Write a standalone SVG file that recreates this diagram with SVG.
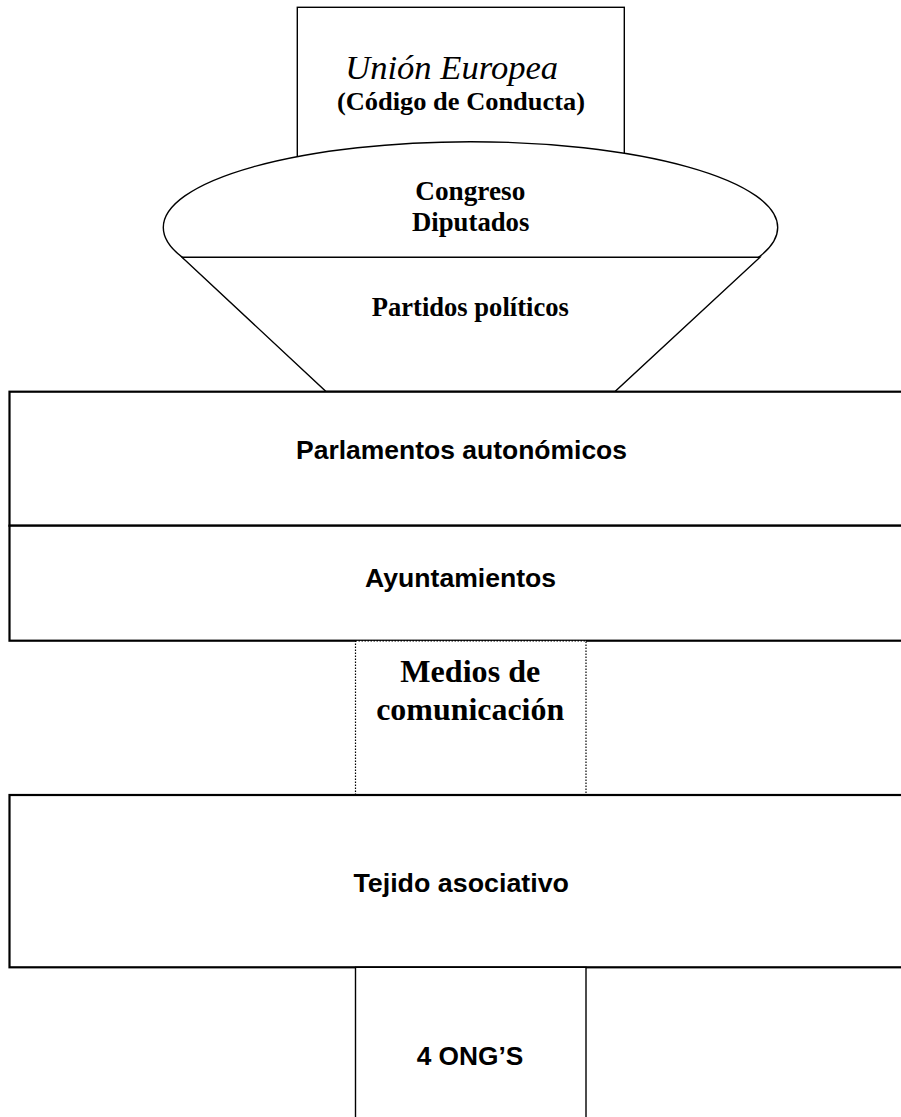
<svg xmlns="http://www.w3.org/2000/svg" width="901" height="1117" viewBox="0 0 901 1117">
<style>
.thin{fill:#fff;stroke:#000;stroke-width:1.4}
.thick{fill:#fff;stroke:#000;stroke-width:2.2}
.dot{fill:#fff;stroke:#000;stroke-width:1.2;stroke-dasharray:1.5 1.5}
.serif{font-family:"Liberation Serif","Times New Roman",serif;fill:#000;text-anchor:middle}
.sans{font-family:"Liberation Sans",Arial,sans-serif;font-weight:bold;fill:#000;text-anchor:middle;font-size:25px}
.b{font-weight:bold}
</style>
<rect width="901" height="1117" fill="#fff"/>
<g id="union-europea">
<rect class="thin" x="297.3" y="7.3" width="327" height="170"/>
<text class="serif" x="451.7" y="79" font-size="33.5" font-style="italic" textLength="213" lengthAdjust="spacingAndGlyphs">Unión Europea</text>
<text class="serif b" x="461" y="110" font-size="26" textLength="248" lengthAdjust="spacingAndGlyphs">(Código de Conducta)</text>
</g>
<g id="congreso-diputados">
<ellipse class="thin" cx="470.5" cy="227.5" rx="307.2" ry="85.8"/>
<text class="serif b" x="470.3" y="200" font-size="27" textLength="110" lengthAdjust="spacingAndGlyphs">Congreso</text>
<text class="serif b" x="470.7" y="231" font-size="27" textLength="117.4" lengthAdjust="spacingAndGlyphs">Diputados</text>
</g>
<g id="partidos-politicos">
<polygon class="thin" points="182,257.3 760,257.3 615,391.5 326,391.5"/>
<text class="serif b" x="470.3" y="316" font-size="27" textLength="197" lengthAdjust="spacingAndGlyphs">Partidos políticos</text>
</g>
<g id="parlamentos-autonomicos">
<rect class="thick" x="9.5" y="391.7" width="930" height="134"/>
<text class="sans" x="461.5" y="458.5" textLength="331" lengthAdjust="spacingAndGlyphs">Parlamentos autonómicos</text>
</g>
<g id="ayuntamientos">
<rect class="thick" x="9.5" y="525.7" width="930" height="115"/>
<text class="sans" x="460.6" y="587" textLength="191" lengthAdjust="spacingAndGlyphs">Ayuntamientos</text>
</g>
<g id="medios-comunicacion">
<rect class="dot" x="355.5" y="640.9" width="230.5" height="154"/>
<text class="serif b" x="470.3" y="682" font-size="31" textLength="140" lengthAdjust="spacingAndGlyphs">Medios de</text>
<text class="serif b" x="470.2" y="719.5" font-size="31" textLength="188" lengthAdjust="spacingAndGlyphs">comunicación</text>
</g>
<g id="tejido-asociativo">
<rect class="thick" x="9.5" y="795" width="930" height="172.3"/>
<text class="sans" x="461.2" y="892" textLength="215.6" lengthAdjust="spacingAndGlyphs">Tejido asociativo</text>
</g>
<g id="ongs">
<rect class="thin" x="355.5" y="967.3" width="230.5" height="170"/>
<text class="sans" x="470" y="1065" textLength="106.7" lengthAdjust="spacingAndGlyphs">4 ONG’S</text>
</g>
<g id="connectors"></g>
</svg>
